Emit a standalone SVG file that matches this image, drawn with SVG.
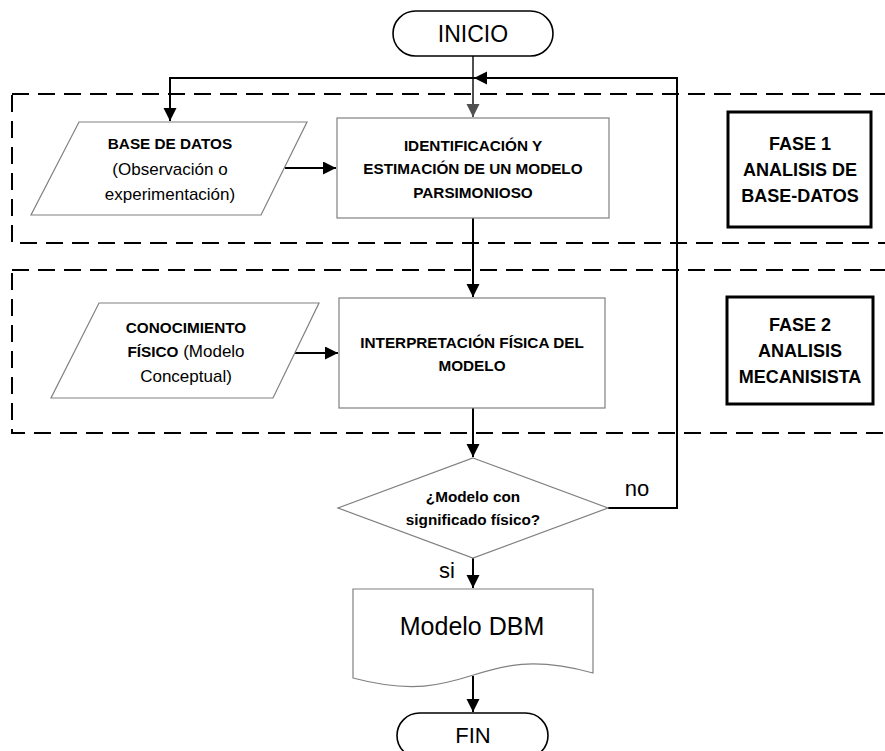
<svg xmlns="http://www.w3.org/2000/svg" width="885" height="751" viewBox="0 0 885 751">
<style>
.t{font-family:"Liberation Sans",Arial,sans-serif;fill:#000;text-anchor:middle}
.b{font-weight:bold;font-size:15.3px}
.r{font-size:17px}
.ph{font-weight:bold;font-size:18px}
.big{font-size:22px}
.node{fill:#fff;stroke:#808080;stroke-width:1.2}
.term{fill:#fff;stroke:#000;stroke-width:1.6}
.fase{fill:#fff;stroke:#000;stroke-width:3}
.dash{fill:none;stroke:#000;stroke-width:2;stroke-dasharray:17 9}
.c{fill:none;stroke:#000;stroke-width:2}
.cg{fill:none;stroke:#505050;stroke-width:2}
</style>
<defs>
<marker id="a" markerUnits="userSpaceOnUse" markerWidth="14" markerHeight="14" refX="13" refY="6.5" orient="auto"><path d="M0,0 L13,6.5 L0,13 z" fill="#000"/></marker>
<marker id="ag" markerUnits="userSpaceOnUse" markerWidth="14" markerHeight="14" refX="13" refY="6.5" orient="auto"><path d="M0,0 L13,6.5 L0,13 z" fill="#505050"/></marker>
</defs>
<g id="fase1-area"><rect class="dash" x="12" y="94" width="900" height="149"/></g>
<g id="fase2-area"><rect class="dash" x="12" y="270" width="900" height="163"/></g>
<g id="connectors">
<path class="cg" d="M473,56 V117" marker-end="url(#ag)"/>
<path class="c" d="M608,508 H677 V78 H474" marker-end="url(#a)"/>
<path class="c" d="M474,78 H170 V121" marker-end="url(#a)"/>
<path class="c" d="M285,168 H336" marker-end="url(#a)"/>
<path class="c" d="M473,218 V297" marker-end="url(#a)"/>
<path class="c" d="M295,353 H338" marker-end="url(#a)"/>
<path class="c" d="M473,408 V457" marker-end="url(#a)"/>
<path class="c" d="M473,558 V588" marker-end="url(#a)"/>
<path class="c" d="M473,676 V712" marker-end="url(#a)"/>
</g>
<g id="inicio">
<rect class="term" x="393" y="11" width="160" height="45" rx="22.5"/>
<text class="t big" x="473" y="42" style="font-size:23px">INICIO</text>
</g>
<g id="base-datos">
<polygon class="node" points="79,122 307,122 261,215 31,215"/>
<text class="t b" x="170" y="148.5">BASE DE DATOS</text>
<text class="t r" x="170" y="175">(Observación o</text>
<text class="t r" x="170" y="200">experimentación)</text>
</g>
<g id="identificacion">
<rect class="node" x="337" y="118" width="272" height="100"/>
<text class="t b" x="473" y="150.5">IDENTIFICACIÓN Y</text>
<text class="t b" x="473" y="173.5">ESTIMACIÓN DE UN MODELO</text>
<text class="t b" x="473" y="197.5">PARSIMONIOSO</text>
</g>
<g id="fase1">
<rect class="fase" x="728" y="112" width="143" height="115"/>
<text class="t ph" x="800" y="149.5">FASE 1</text>
<text class="t ph" x="800" y="176">ANALISIS DE</text>
<text class="t ph" x="800" y="201.5">BASE-DATOS</text>
</g>
<g id="conocimiento">
<polygon class="node" points="99,303 319,303 273,398 51,398"/>
<text class="t b" x="186" y="332.5">CONOCIMIENTO</text>
<text class="t r" x="186" y="357"><tspan style="font-weight:bold;font-size:15.3px">FÍSICO</tspan> (Modelo</text>
<text class="t r" x="186" y="382">Conceptual)</text>
</g>
<g id="interpretacion">
<rect class="node" x="339" y="298" width="266" height="110"/>
<text class="t b" x="472" y="347.5">INTERPRETACIÓN FÍSICA DEL</text>
<text class="t b" x="472" y="370.5">MODELO</text>
</g>
<g id="fase2">
<rect class="fase" x="727" y="297" width="146" height="107"/>
<text class="t ph" x="800" y="331">FASE 2</text>
<text class="t ph" x="800" y="356.5">ANALISIS</text>
<text class="t ph" x="800" y="383">MECANISISTA</text>
</g>
<g id="decision">
<polygon class="node" points="473,458 608,508 473,558 338,508"/>
<text class="t b" x="473" y="502">¿Modelo con</text>
<text class="t b" x="473" y="525">significado físico?</text>
</g>
<g id="labels">
<text class="t big" x="637" y="496">no</text>
<text class="t big" x="447" y="578">si</text>
</g>
<g id="modelo-dbm">
<path class="node" d="M353,589 H593 V673 C473,640 473,710 353,678 Z"/>
<text class="t" x="472" y="635" style="font-size:25px">Modelo DBM</text>
</g>
<g id="fin">
<rect class="term" x="397" y="713" width="151" height="45" rx="22.5"/>
<text class="t big" x="473" y="743">FIN</text>
</g>
</svg>
